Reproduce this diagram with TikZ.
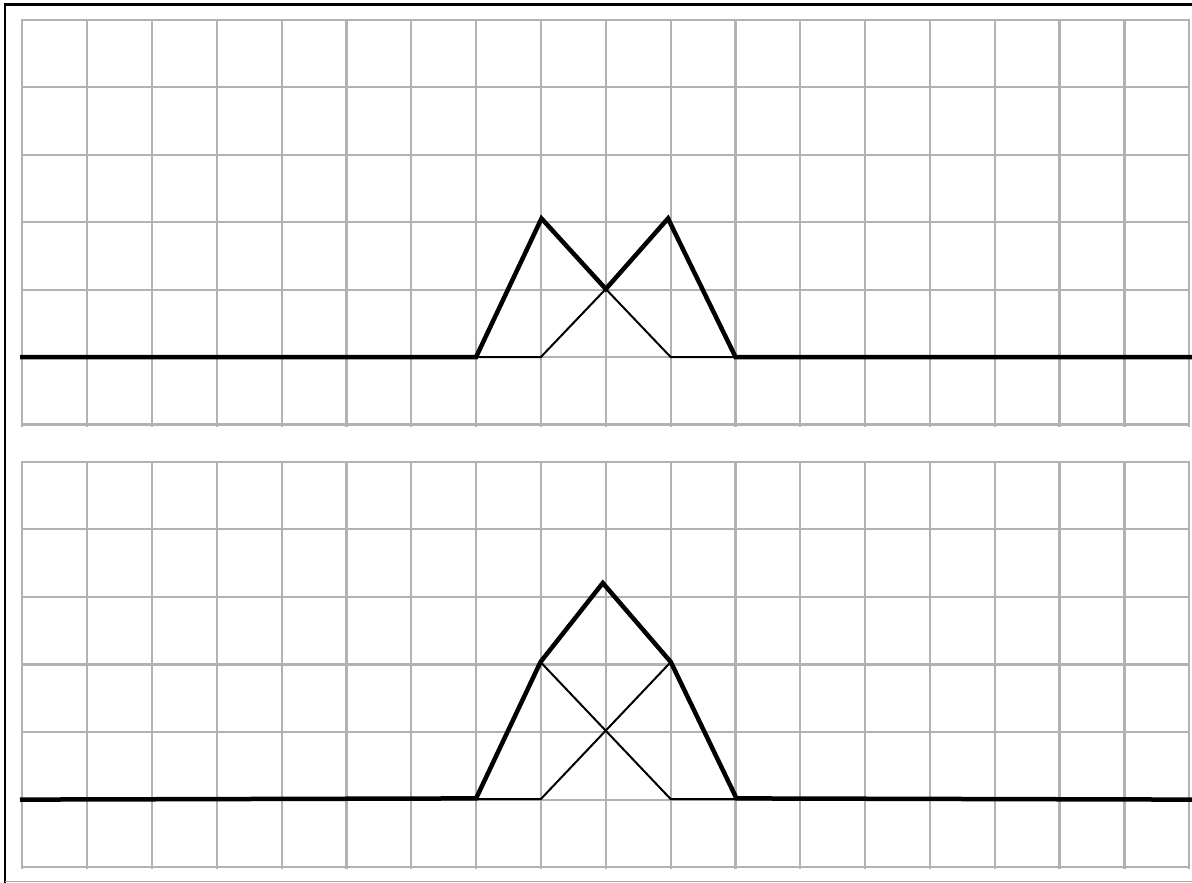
\documentclass[tikz,border=0pt]{standalone}
\begin{document}
\begin{tikzpicture}[x=1pt,y=-1pt,
  gridline/.style={draw=black!30,line width=2.2pt},
  thickline/.style={draw=black,line width=4.5pt,line join=miter,line cap=butt},
  thinline/.style={draw=black,line width=2pt,line join=miter},
  frameline/.style={draw=black,line width=2.5pt}]
\useasboundingbox (0,0) rectangle (1192,883);
% frame
\draw[frameline] (5.2,883) -- (5.2,4.5) -- (1192,4.5);
\draw[draw=black!35,line width=1pt] (5.2,881.8) -- (1192,881.8);
% top grid
\foreach \i in {0,...,18} \draw[gridline] ({22.3+64.83*\i},19) -- ({22.3+64.83*\i},426.8);
\foreach \j in {0,...,6} \draw[gridline] (21.3,{20+67.4*\j}) -- (1190.3,{20+67.4*\j});
% bottom grid
\foreach \i in {0,...,18} \draw[gridline] ({22.3+64.83*\i},460.7) -- ({22.3+64.83*\i},869);
\foreach \j in {0,...,6} \draw[gridline] (21.3,{461.7+67.6*\j}) -- (1190.3,{461.7+67.6*\j});
% top panel
\coordinate (tA) at (476.1,357);
\coordinate (tB) at (540.9,357);
\coordinate (tP1) at (541.5,218.5);
\coordinate (tX) at (605.8,289);
\coordinate (tP2) at (668,218.5);
\coordinate (tC) at (670.6,357);
\coordinate (tD) at (735.5,357);
\draw[thinline] (tA) -- (tB) -- (tX) -- (tC) -- (tD);
\draw[thickline] (20,357) -- (tA) -- (tP1) -- (tX) -- (tP2) -- (tD) -- (1192,357);
% bottom panel
\coordinate (bA) at (476.1,798.4);
\coordinate (bA0) at (476.1,799);
\coordinate (bB) at (540.9,799);
\coordinate (bK1) at (540.5,662);
\coordinate (bP) at (602.8,583);
\coordinate (bK2) at (670.8,662);
\coordinate (bX) at (605.8,731);
\coordinate (bC) at (670.6,799);
\coordinate (bD0) at (736.5,799);
\coordinate (bD) at (736.5,798.4);
\draw[thinline] (bA0) -- (bB) -- (bK2);
\draw[thinline] (bK1) -- (bC) -- (bD0);
\draw[thickline] (20,799.6) -- (bA) -- (bK1) -- (bP) -- (bK2) -- (bD) -- (1192,799.6);
\end{tikzpicture}
\end{document}
